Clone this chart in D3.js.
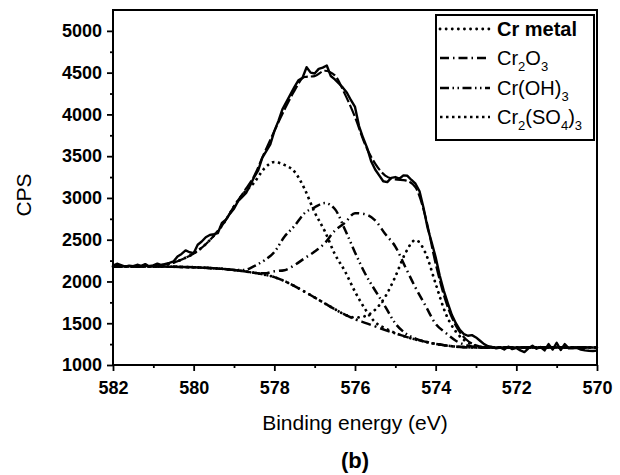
<!DOCTYPE html>
<html><head><meta charset="utf-8">
<script src="https://cdn.jsdelivr.net/npm/d3@7"></script>
<style>
html,body{margin:0;padding:0;background:#fff;}
svg{display:block;font-family:"Liberation Sans",Arial,sans-serif;}
</style></head>
<body><svg id="chart" width="620" height="475"></svg>
<script>
// ---- data ----
const energyGrid = [582,581.75,581.5,581.25,581,580.75,580.5,580.25,580,579.75,579.5,579.25,579,578.75,578.5,578.25,578,577.75,577.5,577.25,577,576.75,576.5,576.25,576,575.75,575.5,575.25,575,574.75,574.5,574.25,574,573.75,573.5,573.25,573,572.75,572.5,572.25,572,571.75,571.5,571.25,571,570.75,570.5,570.25,570];
const background = [2180,2180,2180,2180,2179,2178,2176,2173,2170,2165,2158,2150,2138,2122,2104,2082,2052,2005,1945,1878,1808,1738,1668,1603,1548,1505,1462,1418,1378,1340,1306,1278,1252,1234,1220,1213,1210,1210,1210,1210,1210,1210,1210,1210,1210,1210,1210,1210,1210];
const crMetal = [2180,2180,2180,2180,2179,2178,2176,2173,2170,2165,2158,2150,2138,2122,2104,2082,2052,2005,1945,1878,1808,1738,1668,1603,1568,1585,1662,1818,2058,2340,2496,2338,1972,1614,1400,1283,1230,1210,1210,1210,1210,1210,1210,1210,1210,1210,1210,1210,1210];
const cr2o3 = [2180,2180,2180,2180,2179,2178,2176,2173,2170,2165,2158,2150,2138,2122,2104,2097,2122,2135,2195,2278,2358,2458,2608,2703,2818,2805,2732,2568,2418,2170,1926,1708,1492,1384,1290,1238,1215,1210,1210,1210,1210,1210,1210,1210,1210,1210,1210,1210,1210];
const crOH3 = [2180,2180,2180,2180,2179,2178,2176,2173,2170,2165,2158,2150,2138,2137,2184,2252,2352,2535,2665,2818,2888,2938,2868,2623,2348,2095,1892,1698,1498,1380,1316,1278,1252,1234,1220,1213,1210,1210,1210,1210,1210,1210,1210,1210,1210,1210,1210,1210,1210];
const cr2so43 = [2180,2180,2180,2182,2187,2200,2226,2273,2335,2425,2548,2700,2898,3062,3184,3352,3430,3395,3315,3108,2828,2603,2328,2123,1878,1670,1512,1438,1383,1340,1306,1278,1252,1234,1220,1213,1210,1210,1210,1210,1210,1210,1210,1210,1210,1210,1210,1210,1210];
const envelope = [2180,2180,2180,2182,2187,2200,2226,2273,2335,2425,2548,2700,2898,3077,3264,3537,3800,4055,4285,4448,4458,4523,4468,4243,3968,3640,3412,3268,3223,3210,3126,2768,2212,1764,1470,1308,1235,1210,1210,1210,1210,1210,1210,1210,1210,1210,1210,1210,1210];

const dataEnergy = [582.0,581.9,581.8,581.7,581.6,581.5,581.4,581.3,581.2,581.1,581.0,580.9,580.8,580.7,580.6,580.5,580.4,580.3,580.2,580.1,580.0,579.9,579.8,579.7,579.6,579.5,579.4,579.3,579.2,579.1,579.0,578.9,578.8,578.7,578.6,578.5,578.4,578.3,578.2,578.1,578.0,577.9,577.8,577.7,577.6,577.5,577.4,577.3,577.2,577.1,577.0,576.9,576.8,576.7,576.6,576.5,576.4,576.3,576.2,576.1,576.0,575.9,575.8,575.7,575.6,575.5,575.4,575.3,575.2,575.1,575.0,574.9,574.8,574.7,574.6,574.5,574.4,574.3,574.2,574.1,574.0,573.9,573.8,573.7,573.6,573.5,573.4,573.3,573.2,573.1,573.0,572.9,572.8,572.7,572.6,572.5,572.4,572.3,572.2,572.1,572.0,571.9,571.8,571.7,571.6,571.5,571.4,571.3,571.2,571.1,571.0,570.9,570.8,570.7,570.6,570.5,570.4,570.3,570.2,570.1,570.0];
const dataCPS = [2190,2212,2196,2178,2190,2184,2200,2186,2208,2180,2192,2214,2196,2210,2222,2240,2300,2330,2372,2350,2338,2440,2478,2530,2556,2566,2580,2700,2740,2812,2870,2962,3010,3060,3150,3250,3330,3480,3560,3640,3800,3920,4060,4150,4240,4330,4410,4440,4565,4500,4490,4545,4560,4585,4460,4420,4370,4320,4260,4170,4090,3860,3720,3600,3440,3340,3270,3200,3190,3240,3250,3230,3270,3265,3215,3170,3080,2880,2640,2470,2290,2070,1890,1740,1600,1500,1420,1370,1350,1358,1330,1290,1250,1225,1215,1200,1210,1185,1220,1190,1205,1175,1155,1200,1230,1195,1215,1175,1250,1185,1265,1180,1250,1200,1200,1205,1185,1175,1170,1168,1172];

const xMajorTicks = [582,580,578,576,574,572,570];
const xMinorTicks = [581,579,577,575,573,571];
const yMajorTicks = [1000,1500,2000,2500,3000,3500,4000,4500,5000];
const yMinorTicks = [1250,1750,2250,2750,3250,3750,4250,4750];

const xLabel = "Binding energy (eV)";
const yLabel = "CPS";
const panelLabel = "(b)";

// ---- drawing ----
const svg = d3.select("#chart");
const L = 113, R = 597, T = 10, B = 365;
const x = d3.scaleLinear().domain([582,570]).range([L,R]);
const y = d3.scaleLinear().domain([1000,5250]).range([B,T]);

const gx = svg.append("g").attr("transform",`translate(0,${B})`);
gx.call(d3.axisBottom(x).tickValues(xMinorTicks).tickSize(3).tickFormat(""));
gx.selectAll(".tick text").remove();
gx.select(".domain").remove();
const gx2 = svg.append("g").attr("transform",`translate(0,${B})`);
gx2.call(d3.axisBottom(x).tickValues(xMajorTicks).tickSize(6).tickPadding(10).tickFormat(d3.format("d")));
gx2.select(".domain").remove();

const gy = svg.append("g").attr("transform",`translate(${L},0)`);
gy.call(d3.axisLeft(y).tickValues(yMinorTicks).tickSize(3).tickFormat(""));
gy.selectAll(".tick text").remove();
gy.select(".domain").remove();
const gy2 = svg.append("g").attr("transform",`translate(${L},0)`);
gy2.call(d3.axisLeft(y).tickValues(yMajorTicks).tickSize(6).tickPadding(5).tickFormat(d3.format("d")));
gy2.select(".domain").remove();

svg.selectAll(".tick line").attr("stroke","#000").attr("stroke-width",1.8);
svg.selectAll(".tick text").attr("fill","#000").style("font-family","'Liberation Sans',Arial,sans-serif")
   .style("font-size","18px").style("font-weight","bold");

const comp = (vals)=> energyGrid.map((e,i)=>[e,vals[i]]);
const lineGen = d3.line().x(d=>x(d[0])).y(d=>y(d[1])).curve(d3.curveMonotoneX);
const plot = svg.append("g");

function drawLine(vals, dash, width, cap){
  plot.append("path").datum(comp(vals)).attr("d", lineGen)
    .attr("fill","none").attr("stroke","#000").attr("stroke-width",width)
    .attr("stroke-dasharray",dash).attr("stroke-linecap",cap||"butt").attr("stroke-linejoin","round");
}
const styles = {
  metal: {dash:"0.1,6", w:2.8, cap:"round"},
  o3: {dash:"9,4,1.5,4", w:2.5, cap:"butt"},
  oh: {dash:"9,3.5,1.5,3.5,1.5,3.5", w:2.5, cap:"butt"},
  so4: {dash:"2.5,3.5", w:2.6, cap:"butt"}
};
drawLine(background, "10,4,2,4", 2.5);
drawLine(cr2so43, styles.so4.dash, styles.so4.w, styles.so4.cap);
drawLine(crOH3, styles.oh.dash, styles.oh.w, styles.oh.cap);
drawLine(cr2o3, styles.o3.dash, styles.o3.w, styles.o3.cap);
drawLine(crMetal, styles.metal.dash, styles.metal.w, styles.metal.cap);
drawLine(envelope, "12,3", 2.2);

plot.append("path").datum(dataEnergy.map((e,i)=>[e,dataCPS[i]]))
  .attr("d", d3.line().x(d=>x(d[0])).y(d=>y(d[1])))
  .attr("fill","none").attr("stroke","#000").attr("stroke-width",2.4).attr("stroke-linejoin","round");

// frame
svg.append("rect").attr("x",L).attr("y",T).attr("width",R-L).attr("height",B-T)
  .attr("fill","none").attr("stroke","#000").attr("stroke-width",2);

// axis titles
svg.append("text").attr("x",(L+R)/2).attr("y",430).attr("text-anchor","middle")
  .style("font-size","21px").text(xLabel);
svg.append("text").attr("transform","translate(31,195) rotate(-90)").attr("text-anchor","middle")
  .style("font-size","21px").text(yLabel);
svg.append("text").attr("x",(L+R)/2).attr("y",468).attr("text-anchor","middle")
  .style("font-size","22px").style("font-weight","bold").text(panelLabel);

// legend
const lg = svg.append("g");
lg.append("rect").attr("x",436).attr("y",15).attr("width",158).attr("height",125)
  .attr("fill","#fff").attr("stroke","#000").attr("stroke-width",2);
const legendItems = [
  {parts:[["Cr metal",0]], st:styles.metal, bold:true},
  {parts:[["Cr",0],["2",1],["O",0],["3",1]], st:styles.o3},
  {parts:[["Cr(OH)",0],["3",1]], st:styles.oh},
  {parts:[["Cr",0],["2",1],["(SO",0],["4",1],[")",0],["3",1]], st:styles.so4}
];
const rowY = [29,58,88,117];
legendItems.forEach((it,i)=>{
  const yy = rowY[i];
  lg.append("line").attr("x1",440).attr("x2",490).attr("y1",yy).attr("y2",yy)
    .attr("stroke","#000").attr("stroke-width",it.st.w).attr("stroke-dasharray",it.st.dash)
    .attr("stroke-linecap",it.st.cap);
  const t = lg.append("text").attr("x",497).attr("y",yy+7).style("font-size","20px")
    .style("font-weight", it.bold?"bold":"normal");
  let prevSub = false;
  it.parts.forEach(p=>{
    const sp = t.append("tspan").text(p[0]);
    if(p[1]){ sp.attr("dy",6).style("font-size","13px"); prevSub = true; }
    else { if(prevSub) sp.attr("dy",-6); prevSub = false; }
  });
});
</script></body></html>
